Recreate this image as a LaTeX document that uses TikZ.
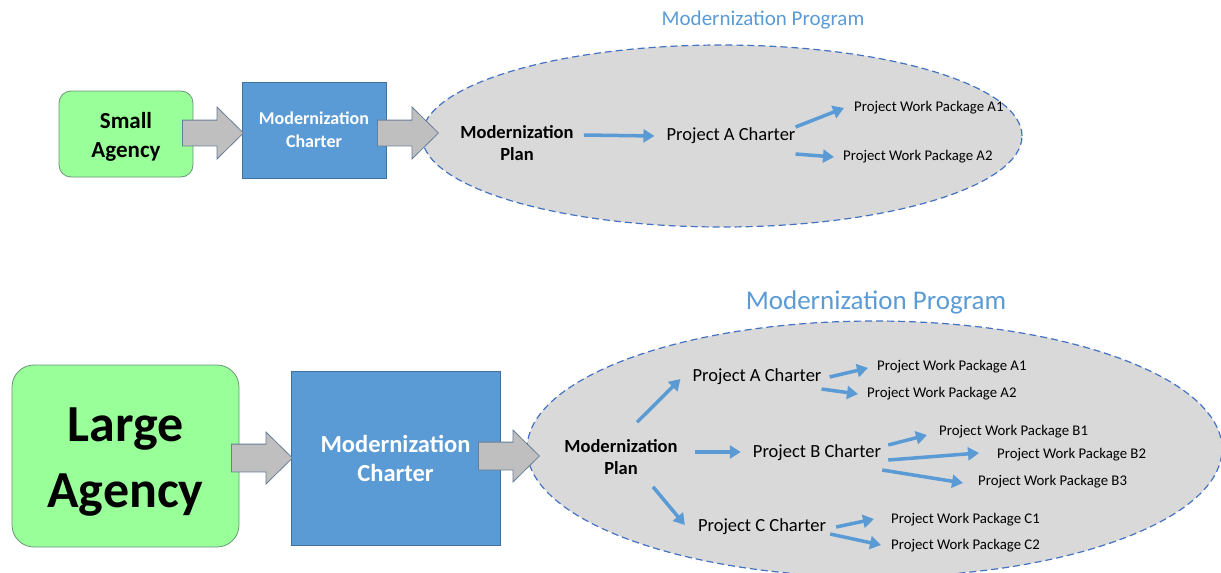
\documentclass[tikz,border=0pt]{standalone}
\usepackage{fontspec}
\setmainfont{Carlito}
\usetikzlibrary{arrows.meta,shapes.geometric,shapes.arrows}
\definecolor{agencyfill}{RGB}{153,255,153}
\definecolor{agencyedge}{RGB}{106,150,120}
\definecolor{charterfill}{RGB}{91,155,213}
\definecolor{charteredge}{RGB}{65,113,156}
\definecolor{arrowfill}{RGB}{191,191,191}
\definecolor{arrowedge}{RGB}{105,125,150}
\definecolor{progfill}{RGB}{217,217,217}
\definecolor{progedge}{RGB}{68,114,196}
\definecolor{flowblue}{RGB}{91,155,213}

\begin{document}
\begin{tikzpicture}[x=1pt,y=-1pt,
  agency/.style={draw=agencyedge,fill=agencyfill,thick,align=center},
  charter/.style={draw=charteredge,fill=charterfill,thick,align=center,text=white},
  bigarrow/.style={single arrow,draw=arrowedge,fill=arrowfill,thick,inner xsep=0pt,
    single arrow tip angle=89,minimum height=61pt,minimum width=0pt,anchor=tail},
  program/.style={ellipse,draw=progedge,fill=progfill,line width=1.2pt,
    dash pattern=on 7pt off 4pt,inner sep=0pt},
  progtitle/.style={text=flowblue,inner sep=0pt},
  plan/.style={align=center,inner sep=0pt,font=\bfseries\fontsize{18.5}{22}\selectfont},
  proj/.style={inner sep=0pt,font=\fontsize{18.5}{22}\selectfont},
  wp/.style={inner sep=0pt,anchor=west,font=\fontsize{14.8}{17}\selectfont},
  flow/.style={draw=flowblue,line width=3.5pt,-{Triangle[length=11pt,width=13pt]}}]
\useasboundingbox (0,0) rectangle (1221,573);

\node [agency,rounded corners=12pt,minimum width=134pt,minimum height=86pt,
  font=\bfseries\fontsize{23}{29}\selectfont] (small) at (126,134) {};
\node [align=center,inner sep=0pt,font=\bfseries\fontsize{23}{29}\selectfont] (smalltext) at (126,137) {Small\\Agency};
\node [charter,minimum width=144pt,minimum height=96pt,
  font=\bfseries\fontsize{18}{23}\selectfont] (chart1) at (314,130) {Modernization\\Charter};
\node [program,minimum width=600pt,minimum height=182pt] (prog1) at (722,136) {};
\node [bigarrow,inner ysep=12.5pt,single arrow head extend=13pt] (arr1) at (182,133) {};
\node [bigarrow,inner ysep=12.5pt,single arrow head extend=13pt] (arr2) at (377,133) {};
\node [progtitle,font=\fontsize{21}{24}\selectfont] (title1) at (763,20) {Modernization Program};
\node [plan] (plan1) at (517,143) {Modernization\\Plan};
\node [proj] (chA1) at (731,136) {Project A Charter};
\node [wp] (wpA1) at (854,108) {Project Work Package A1};
\node [wp] (wpA2) at (843,157) {Project Work Package A2};
\draw [flow] ([xshift=10pt,yshift=8pt]plan1.east) -- ([xshift=-12pt]chA1.west);
\draw [flow] ([yshift=9pt]chA1.east) -- ([xshift=-10pt]wpA1.west);
\draw [flow] ([yshift=-18pt]chA1.east) -- ([xshift=-9pt]wpA2.west);

\node [agency,rounded corners=22pt,minimum width=227pt,minimum height=182pt] (large) at (125.5,456) {};
\node [align=center,inner sep=0pt,font=\bfseries\fontsize{52}{66}\selectfont] (largetext) at (125.5,462) {Large\\Agency};
\node [charter,minimum width=209pt,minimum height=174pt,
  font=\bfseries\fontsize{24.5}{29}\selectfont] (chart2) at (395.5,458) {Modernization\\Charter};
\node [program,minimum width=695pt,minimum height=256pt] (prog2) at (874.5,449) {};
\node [bigarrow,inner ysep=13.5pt,single arrow head extend=12pt] (arr3) at (231,458) {};
\node [bigarrow,inner ysep=13.5pt,single arrow head extend=12pt] (arr4) at (478,456) {};
\node [progtitle,font=\fontsize{27}{30}\selectfont] (title2) at (876,302) {Modernization Program};
\node [plan] (plan2) at (621,457) {Modernization\\Plan};
\node [proj] (chA2) at (757,377) {Project A Charter};
\node [proj] (chB2) at (817,453) {Project B Charter};
\node [proj] (chC2) at (762,527) {Project C Charter};
\node [wp] (wpA21) at (877,367) {Project Work Package A1};
\node [wp] (wpA22) at (867,394) {Project Work Package A2};
\node [wp] (wpB1) at (939,432) {Project Work Package B1};
\node [wp] (wpB2) at (997,455) {Project Work Package B2};
\node [wp] (wpB3) at (978,482) {Project Work Package B3};
\node [wp] (wpC1) at (891,520) {Project Work Package C1};
\node [wp] (wpC2) at (891,546) {Project Work Package C2};
\draw [flow] ([xshift=16pt,yshift=17pt]plan2.north) -- ([xshift=-12pt,yshift=-2pt]chA2.west);
\draw [flow] ([xshift=17pt,yshift=5pt]plan2.east) -- ([xshift=-12pt,yshift=1pt]chB2.west);
\draw [flow] ([xshift=32pt,yshift=-12pt]plan2.south) -- ([xshift=-13pt,yshift=2pt]chC2.west);
\draw [flow] ([xshift=8pt]chA2.east) -- ([xshift=-9pt,yshift=-1pt]wpA21.west);
\draw [flow] ([yshift=-12pt]chA2.east) -- ([xshift=-9pt]wpA22.west);
\draw [flow] ([xshift=7pt,yshift=8pt]chB2.east) -- ([xshift=-12pt,yshift=-3pt]wpB1.west);
\draw [flow] ([xshift=7pt,yshift=-7pt]chB2.east) -- ([xshift=-18pt,yshift=2pt]wpB2.west);
\draw [flow] ([xshift=1pt,yshift=-17pt]chB2.east) -- ([xshift=-15pt,yshift=-1pt]wpB3.west);
\draw [flow] ([xshift=10pt]chC2.east) -- ([xshift=-17pt,yshift=1pt]wpC1.west);
\draw [flow] ([xshift=4pt,yshift=-7pt]chC2.east) -- ([xshift=-10pt,yshift=1pt]wpC2.west);
\end{tikzpicture}
\end{document}
